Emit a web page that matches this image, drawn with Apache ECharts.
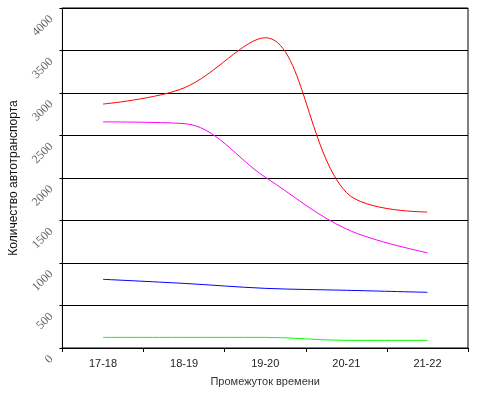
<!DOCTYPE html>
<html>
<head>
<meta charset="utf-8">
<script src="https://cdn.jsdelivr.net/npm/echarts@6/dist/echarts.min.js"></script>
<style>
    html, body { margin: 0; padding: 0; background: #fff; }
    #chart { width: 485px; height: 398px; }
</style>
</head>
<body>
<div id="chart"></div>
<script>
    // данные графика
    var periods = ['17-18', '18-19', '19-20', '20-21', '21-22'];
    var redVals = [2870, 3060, 3650, 1830, 1600];
    var magentaVals = [2660, 2640, 2010, 1400, 1120];
    var blueVals = [808, 760, 702, 679, 655];
    var greenVals = [125, 125, 125, 90, 90];

    var myChart = echarts.init(document.getElementById('chart'));

    function line(name, color, data, smooth) {
        return {
            name: name,
            type: 'line',
            data: data,
            smooth: smooth,
            symbol: 'none',
            color: color,
            lineStyle: { width: 1, color: color }
        };
    }

    myChart.setOption({
        animation: false,
        grid: {
            left: 62, right: 17, top: 8, bottom: 50,
            show: true,
            borderColor: '#000',
            borderWidth: 1
        },
        xAxis: {
            type: 'category',
            data: periods,
            boundaryGap: true,
            name: 'Промежуток времени',
            nameLocation: 'middle',
            nameGap: 28,
            nameTextStyle: { color: '#333', fontSize: 11, fontFamily: 'Liberation Sans' },
            axisLine: { lineStyle: { color: '#000', width: 1 } },
            axisTick: { show: true, length: 4, lineStyle: { color: '#000' } },
            axisLabel: { color: '#222', fontSize: 11, fontFamily: 'Liberation Sans', margin: 10 }
        },
        yAxis: {
            type: 'value',
            min: 0,
            max: 4000,
            interval: 500,
            name: 'Количество автотранспорта',
            nameLocation: 'middle',
            nameGap: 33,
            nameTextStyle: { color: '#111', fontSize: 12, fontFamily: 'Liberation Sans' },
            axisLine: { show: true, lineStyle: { color: '#000', width: 1 } },
            axisTick: { show: true, length: 3, lineStyle: { color: '#000' } },
            axisLabel: {
                rotate: 45,
                margin: 2,
                padding: [5, 13, 0, 0],
                color: '#666',
                fontSize: 12,
                fontFamily: 'Liberation Serif',
                formatter: function (v) { return String(v); }
            },
            splitLine: { show: true, lineStyle: { color: '#000', width: 1 } }
        },
        series: [
            line('red', '#ff0000', redVals, 0.35),
            line('magenta', '#ff00ff', magentaVals, 0.35),
            line('blue', '#0000ff', blueVals, 0.35),
            line('green', '#00ff00', greenVals, 0.35)
        ]
    });
</script>
</body>
</html>
